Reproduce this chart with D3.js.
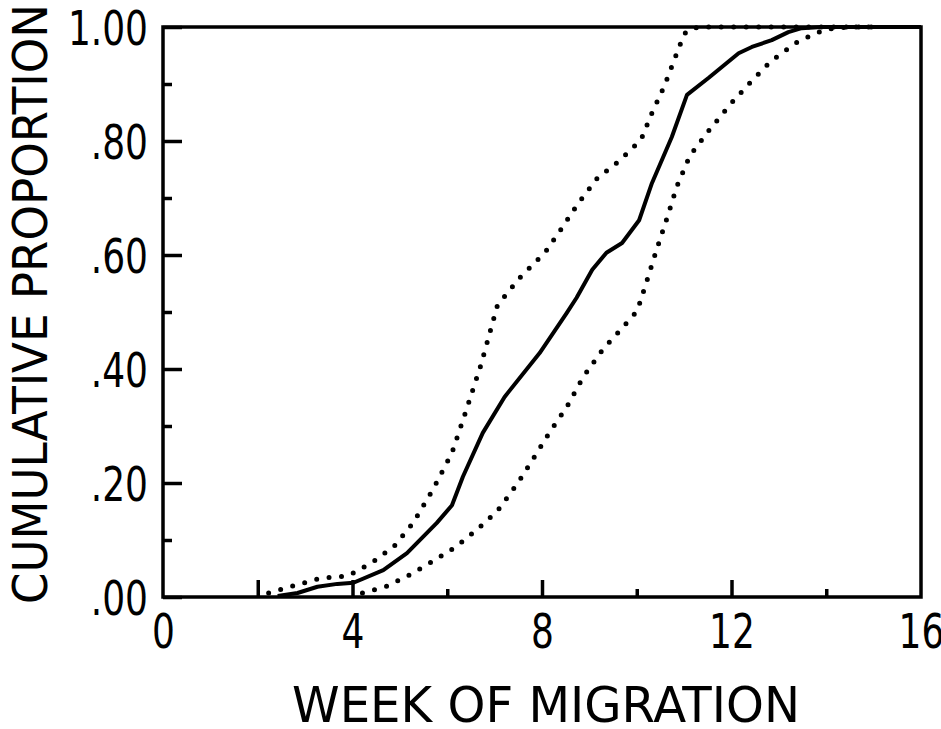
<!DOCTYPE html>
<html>
<head>
<meta charset="utf-8">
<script src="https://cdn.jsdelivr.net/npm/d3@7"></script>
<style>
  html, body { margin: 0; padding: 0; background: #fff; }
  svg { display: block; }
  text { font-family: "DejaVu Sans", sans-serif; fill: #000; }
</style>
</head>
<body>
<div id="vizHolder"></div>
<script>
// observed cumulative proportion (solid line)
var obsWeek = [2.42, 2.84, 3.26, 3.68, 4.02, 4.65, 5.15, 5.78, 6.10, 6.33, 6.75, 7.21, 7.95, 8.52, 8.73, 9.06, 9.36, 9.69, 10.05, 10.32, 10.74, 11.06, 11.52, 12.15, 12.43, 12.85, 13.20, 13.48, 13.9, 16];
var obsProp = [0.002, 0.007, 0.018, 0.023, 0.025, 0.047, 0.077, 0.130, 0.161, 0.211, 0.288, 0.351, 0.428, 0.498, 0.525, 0.574, 0.604, 0.621, 0.661, 0.726, 0.807, 0.881, 0.911, 0.954, 0.965, 0.977, 0.991, 0.998, 1.0, 1.0];

// upper bound (left dotted line)
var upWeek = [2.23, 2.73, 3.32, 3.91, 4.42, 4.88, 5.28, 5.70, 6.10, 6.39, 6.71, 6.98, 7.06, 7.53, 8.07, 8.41, 8.75, 9.17, 9.63, 10.09, 10.32, 10.58, 10.91, 11.00, 11.16, 11.4, 15];
var upProp = [0.007, 0.019, 0.033, 0.037, 0.061, 0.089, 0.130, 0.189, 0.253, 0.325, 0.407, 0.488, 0.512, 0.560, 0.605, 0.646, 0.689, 0.735, 0.765, 0.802, 0.849, 0.896, 0.968, 0.988, 0.998, 1.0, 1.0];

// lower bound (right dotted line)
var lowWeek = [4.21, 4.73, 5.21, 5.70, 6.18, 6.64, 7.06, 7.49, 7.84, 8.16, 8.52, 8.87, 9.29, 9.65, 10.01, 10.20, 10.41, 10.64, 10.85, 11.12, 11.52, 11.98, 12.41, 12.83, 13.41, 13.98, 14.47, 15];
var lowProp = [0.007, 0.019, 0.039, 0.063, 0.088, 0.119, 0.151, 0.200, 0.246, 0.289, 0.333, 0.386, 0.435, 0.468, 0.502, 0.551, 0.607, 0.665, 0.721, 0.774, 0.818, 0.865, 0.904, 0.940, 0.975, 0.996, 1.0, 1.0];

var xLabelTicks = [0, 4, 8, 12, 16];
var xTallTicks = [2, 4, 8, 12];
var xShortTicks = [6, 10, 14];
var yMajorTicks = [0, 0.2, 0.4, 0.6, 0.8, 1.0];
var yMinorTicks = [0.1, 0.3, 0.5, 0.7, 0.9];
var yTickLabels = ['.00', '.20', '.40', '.60', '.80', '1.00'];

var width = 941,
	height = 729,
	plotLeft = 163, plotRight = 921, plotTop = 27, plotBottom = 597,
	glyphScale = 0.75;

var svg = d3.select('#vizHolder')
	.append('svg')
	.attr('width', width)
	.attr('height', height);

var xScale = d3.scaleLinear().domain([0, 16]).range([plotLeft, plotRight]);
var yScale = d3.scaleLinear().domain([0, 1]).range([plotBottom, plotTop]);

function zip(xs, ys) {
	return xs.map(function(d, i) { return [d, ys[i]]; });
}

var line = d3.line()
	.x(function(d) { return xScale(d[0]); })
	.y(function(d) { return yScale(d[1]); });

// series
svg.append('path')
	.datum(zip(upWeek, upProp))
	.attr('d', line)
	.attr('fill', 'none')
	.attr('stroke', '#000')
	.attr('stroke-width', 5)
	.attr('stroke-linecap', 'round')
	.attr('stroke-dasharray', '0 12.5');

svg.append('path')
	.datum(zip(lowWeek, lowProp))
	.attr('d', line)
	.attr('fill', 'none')
	.attr('stroke', '#000')
	.attr('stroke-width', 5)
	.attr('stroke-linecap', 'round')
	.attr('stroke-dasharray', '0 12.5');

svg.append('path')
	.datum(zip(obsWeek, obsProp))
	.attr('d', line)
	.attr('fill', 'none')
	.attr('stroke', '#000')
	.attr('stroke-width', 4)
	.attr('stroke-linejoin', 'round');

// tick marks pointing inward
function tickAxis(axis, transform) {
	var g = svg.append('g')
		.attr('transform', transform)
		.call(axis);
	g.select('.domain').remove();
	g.selectAll('.tick line').attr('stroke', '#000').attr('stroke-width', 3.5);
	g.selectAll('.tick text').remove();
	return g;
}

tickAxis(d3.axisBottom(xScale).tickValues(xTallTicks).tickSize(-17), 'translate(0,' + plotBottom + ')');
tickAxis(d3.axisBottom(xScale).tickValues(xShortTicks).tickSize(-8), 'translate(0,' + plotBottom + ')');
tickAxis(d3.axisLeft(yScale).tickValues(yMajorTicks).tickSize(-19), 'translate(' + plotLeft + ',0)');
tickAxis(d3.axisLeft(yScale).tickValues(yMinorTicks).tickSize(-9), 'translate(' + plotLeft + ',0)');

// tick labels
var xLab = svg.append('g')
	.attr('transform', 'translate(0,' + plotBottom + ')')
	.call(d3.axisBottom(xScale).tickValues(xLabelTicks).tickSize(0).tickFormat(d3.format('d')));
xLab.select('.domain').remove();
xLab.selectAll('.tick text')
	.attr('font-size', 48)
	.attr('font-family', '"DejaVu Sans", sans-serif')
	.attr('y', 51)
	.attr('dy', 0)
	.attr('transform', 'scale(' + glyphScale + ',1)');

var yLab = svg.append('g')
	.attr('transform', 'translate(' + plotLeft + ',0)')
	.call(d3.axisLeft(yScale).tickValues(yMajorTicks).tickSize(0)
		.tickFormat(function(d, i) { return yTickLabels[i]; }));
yLab.select('.domain').remove();
yLab.selectAll('.tick text')
	.attr('font-size', 48)
	.attr('font-family', '"DejaVu Sans", sans-serif')
	.attr('x', -15 / glyphScale)
	.attr('dy', '0.36em')
	.attr('transform', 'scale(' + glyphScale + ',1)');

// frame
svg.append('rect')
	.attr('x', plotLeft)
	.attr('y', plotTop)
	.attr('width', plotRight - plotLeft)
	.attr('height', plotBottom - plotTop)
	.attr('fill', 'none')
	.attr('stroke', '#000')
	.attr('stroke-width', 3.5);

// axis titles
svg.append('text')
	.attr('x', 546)
	.attr('y', 722)
	.attr('text-anchor', 'middle')
	.attr('font-size', 50)
	.attr('textLength', 508)
	.attr('lengthAdjust', 'spacingAndGlyphs')
	.text('WEEK OF MIGRATION');

svg.append('text')
	.attr('transform', 'translate(47,304) rotate(-90)')
	.attr('text-anchor', 'middle')
	.attr('font-size', 48)
	.attr('textLength', 600)
	.attr('lengthAdjust', 'spacingAndGlyphs')
	.text('CUMULATIVE PROPORTION');
</script>
</body>
</html>
